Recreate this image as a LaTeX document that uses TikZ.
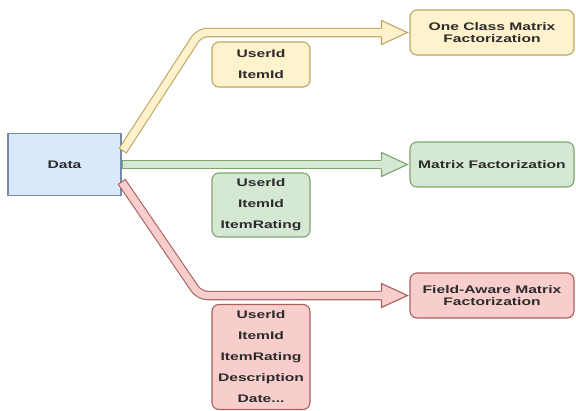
\documentclass[tikz,border=0pt]{standalone}
\usepackage{fontspec}
\newfontfamily\dfont{Liberation Sans}[FakeStretch=1.42]
\usetikzlibrary{calc}
\definecolor{bfill}{HTML}{DAE8FC}\definecolor{bdraw0}{HTML}{6C8EBF}
\definecolor{yfill}{HTML}{FFF2CC}\definecolor{ydraw0}{HTML}{D6B656}
\definecolor{gfill}{HTML}{D5E8D4}\definecolor{gdraw0}{HTML}{82B366}
\definecolor{rfill}{HTML}{F8CECC}\definecolor{rdraw0}{HTML}{B85450}
\colorlet{bdraw}{bdraw0!70!gray}
\colorlet{ydraw}{ydraw0!70!gray}
\colorlet{gdraw}{gdraw0!70!gray}
\colorlet{rdraw}{rdraw0!75!gray}
\definecolor{txt}{HTML}{2B2B2B}
\begin{document}
\begin{tikzpicture}[x=1pt,y=-1pt,
  box/.style={draw, line width=1.1pt, rounded corners=7pt, align=center, inner sep=0pt, text=txt,
    font=\dfont\bfseries\fontsize{11}{11.7}\selectfont},
  titlebox/.style={box, minimum width=164pt, minimum height=45pt},
  listbox/.style={box, minimum width=98pt, font=\dfont\bfseries\fontsize{11}{21}\selectfont},
  databox/.style={draw=bdraw, fill=bfill, line width=1.1pt, minimum width=113pt, minimum height=62pt,
    inner sep=0pt, text=txt, font=\dfont\bfseries\fontsize{11}{11.7}\selectfont},
  shaftout/.style={line width=9.5pt, rounded corners=8pt},
  shaftin/.style={line width=7.3pt, rounded corners=8pt, shorten <=1.1pt},
  headline/.style={line width=1.1pt, line join=miter}
]
\useasboundingbox[fill=white] (0,0) rectangle (576,410);

% nodes
\node[databox] (data) at (64.5,164.5) {Data};
\node[titlebox, fill=yfill, draw=ydraw] (ocmf) at (492,32.5) {One Class Matrix\\Factorization};
\node[titlebox, fill=gfill, draw=gdraw] (mf) at (492,164.5) {Matrix Factorization};
\node[titlebox, fill=rfill, draw=rdraw] (famf) at (492,295.5) {Field-Aware Matrix\\Factorization};
\node[listbox, fill=yfill, draw=ydraw, minimum height=45pt] (ylist) at (261,64.5) {UserId\\ItemId};
\node[listbox, fill=gfill, draw=gdraw, minimum height=64pt] (glist) at (261,205) {UserId\\ItemId\\ItemRating};
\node[listbox, fill=rfill, draw=rdraw, minimum height=105pt] (rlist) at (261,357) {UserId\\ItemId\\ItemRating\\Description\\Date...};

% yellow arrow
\coordinate (ys) at ($(data.east)+(1,-13.5)$);
\coordinate (yt) at ($(ocmf.west)+(-2,0)$);
\coordinate (yh) at ($(yt)+(-26,0)$);
\coordinate (yb) at ($(yt)+(-208,0)$);
\draw[shaftout, draw=ydraw] (ys) -- (yb) -- (yh);
\draw[shaftin, draw=yfill] (ys) -- (yb) -- ($(yh)+(1,0)$);
\path[headline, fill=yfill, draw=ydraw] ($(yh)+(0,-4.2)$) -- ($(yh)+(0,-12)$) -- (yt) -- ($(yh)+(0,12)$) -- ($(yh)+(0,4.2)$);

% green arrow
\coordinate (gs) at (data.east);
\coordinate (gt) at ($(mf.west)+(-2,0)$);
\coordinate (gh) at ($(gt)+(-26,0)$);
\draw[shaftout, draw=gdraw] (gs) -- (gh);
\draw[shaftin, draw=gfill] (gs) -- ($(gh)+(1,0)$);
\path[headline, fill=gfill, draw=gdraw] ($(gh)+(0,-4.2)$) -- ($(gh)+(0,-12)$) -- (gt) -- ($(gh)+(0,12)$) -- ($(gh)+(0,4.2)$);

% red arrow
\coordinate (rs) at ($(data.east)+(0,17)$);
\coordinate (rt) at ($(famf.west)+(-2,0)$);
\coordinate (rh) at ($(rt)+(-26,0)$);
\coordinate (rb) at ($(rt)+(-208,0)$);
\draw[shaftout, draw=rdraw] (rs) -- (rb) -- (rh);
\draw[shaftin, draw=rfill] (rs) -- (rb) -- ($(rh)+(1,0)$);
\path[headline, fill=rfill, draw=rdraw] ($(rh)+(0,-4.2)$) -- ($(rh)+(0,-12)$) -- (rt) -- ($(rh)+(0,12)$) -- ($(rh)+(0,4.2)$);
\end{tikzpicture}
\end{document}
